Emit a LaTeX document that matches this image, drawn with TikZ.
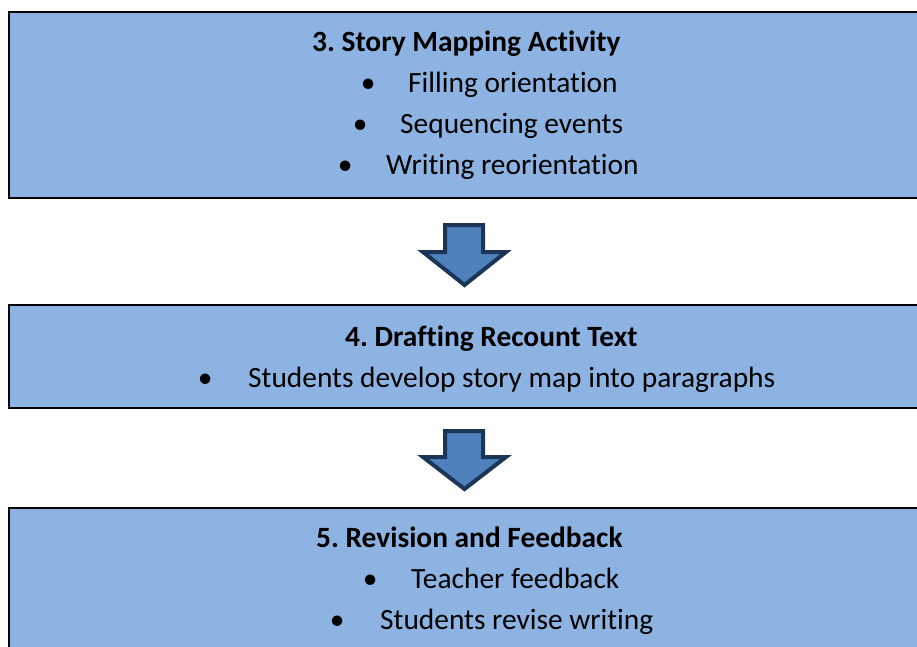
\documentclass[tikz,border=0pt]{standalone}
\usepackage{fontspec}
\setmainfont[Ligatures=NoCommon]{Carlito}
\frenchspacing
\definecolor{boxfill}{HTML}{8DB3E2}
\definecolor{arrowfill}{HTML}{4F81BD}
\definecolor{arrowline}{HTML}{1C3557}
\begin{document}
\begin{tikzpicture}[x=1pt,y=-1pt,
  panel/.style={draw=black,line width=2pt,fill=boxfill},
  downarrow/.style={draw=arrowline,line width=4pt,fill=arrowfill,line join=miter},
  title/.style={anchor=base west,inner sep=0pt,font=\fontsize{29.4}{34}\selectfont\bfseries},
  item/.style={anchor=base west,inner sep=0pt,font=\fontsize{29.4}{34}\selectfont}]
\useasboundingbox (0,0) rectangle (917,646);
% panels
\path[panel] (9,12) rectangle (930,198);
\path[panel] (9,305) rectangle (930,408);
\path[panel] (9,508) rectangle (930,670);
% arrows
\path[downarrow] (445,225) -- (483,225) -- (483,252) -- (506,252) -- (464.5,285) -- (423,252) -- (445,252) -- cycle;
\path[downarrow] (445,431) -- (483,431) -- (483,457) -- (506,457) -- (464.5,489) -- (423,457) -- (445,457) -- cycle;
% box 1
\node[title] (t1) at (312,51) {3. Story Mapping Activity};
\node[item] (b11) at (368,92) {\makebox[0pt]{•}\hspace{40pt}Filling orientation};
\node[item] (b12) at (360,133) {\makebox[0pt]{•}\hspace{40pt}Sequencing events};
\node[item] (b13) at (345,174) {\makebox[0pt]{•}\hspace{41pt}Writing reorientation};
% box 2
\node[title] (t2) at (345,346) {4. Drafting Recount Text};
\node[item] (b21) at (205,387) {\makebox[0pt]{•}\hspace{43pt}Students develop story map into paragraphs};
% box 3
\node[title] (t3) at (316,547) {5. Revision and Feedback};
\node[item] (b31) at (370,588) {\makebox[0pt]{•}\hspace{41pt}Teacher feedback};
\node[item] (b32) at (337,629) {\makebox[0pt]{•}\hspace{43pt}Students revise writing};
\end{tikzpicture}
\end{document}
